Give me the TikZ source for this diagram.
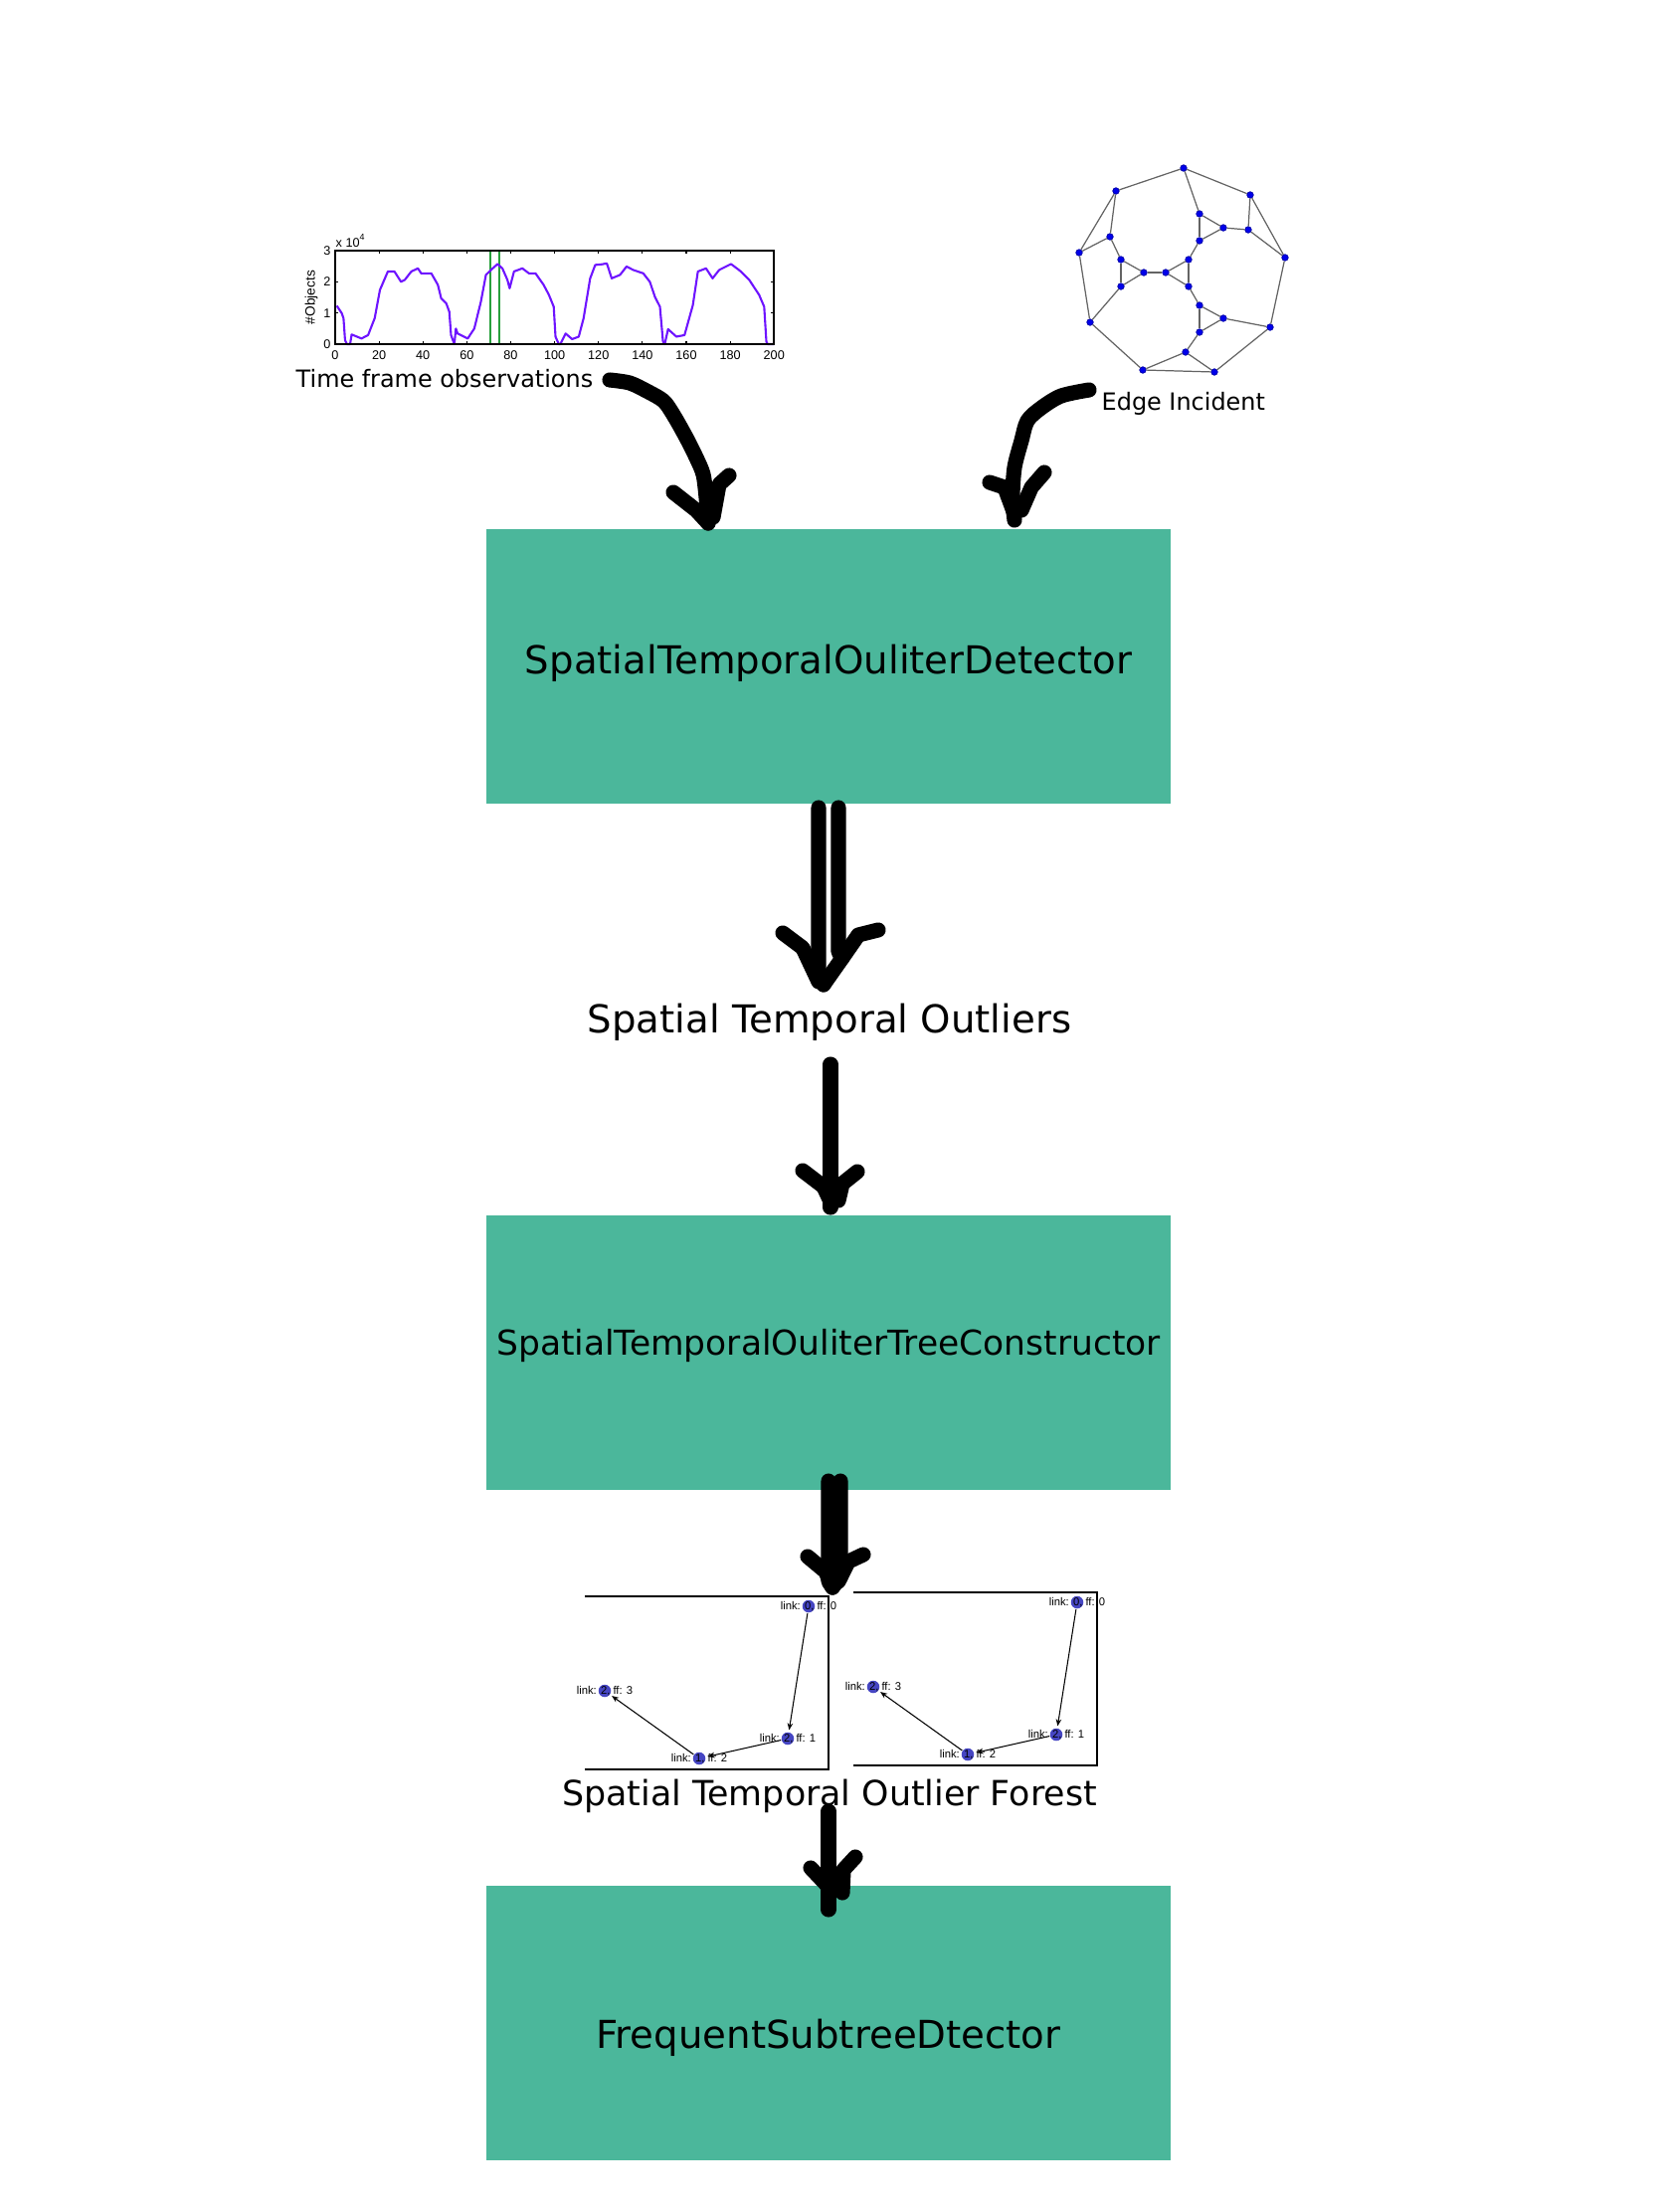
\documentclass[tikz,border=0pt]{standalone}
\usepackage{fontspec}
\setmainfont{DejaVu Sans}
\newfontfamily\axisfont{Liberation Sans}
\usepackage{tikz}
\usetikzlibrary{positioning,arrows.meta}
\definecolor{stoteal}{RGB}{75,183,155}
\definecolor{stoviolet}{RGB}{110,20,255}
\definecolor{stogreen}{RGB}{40,160,60}
\definecolor{stoblue}{RGB}{0,0,235}
\definecolor{stonode}{RGB}{70,70,195}
\definecolor{stogray}{RGB}{100,100,100}

\begin{document}
\begin{tikzpicture}[x=0.01cm,y=-0.01cm,
  stage/.style={fill=stoteal,minimum width=6.88cm,minimum height=2.76cm,inner sep=0pt,font=\fontsize{11}{13}\selectfont},
  caption/.style={inner sep=0pt,font=\fontsize{11}{13}\selectfont},
  small/.style={inner sep=0pt,font=\fontsize{6.8}{8}\selectfont},
  ink/.style={line width=4.3pt,line cap=round,line join=round},
  ticklab/.style={inner sep=0pt,font=\axisfont\fontsize{3.6}{4}\selectfont},
  gdot/.style={circle,fill=stoblue,draw=stoblue!70!black,line width=0.2pt,minimum size=0.065cm,inner sep=0pt},
  gedge/.style={stogray,line width=0.35pt},
  fdot/.style={circle,fill=stonode,minimum size=0.125cm,inner sep=0pt},
  flab/.style={inner sep=0pt,font=\axisfont\fontsize{3.2}{4}\selectfont},
  fedge/.style={line width=0.3pt,-{Stealth[length=2pt,width=1.6pt]},shorten >=0.5pt}]
\useasboundingbox (0,0) rectangle (1668,2224);

% stages
\node[stage,text height=8.4pt,text depth=4.2pt] (detector) at (833,670) {SpatialTemporalOuliterDetector};
\node[caption] (outliers) at (834,1028) {Spatial Temporal Outliers};
\node[stage,font=\fontsize{9.8}{12}\selectfont,text height=7.5pt,text depth=6.3pt] (treecon) at (833,1360) {SpatialTemporalOuliterTreeConstructor};
\node[caption,font=\fontsize{9.9}{12}\selectfont] (forestlab) at (834,1806) {Spatial Temporal Outlier Forest};
\node[stage,text height=15pt,text depth=0.4pt] (subtree) at (833,2034) {FrequentSubtreeDtector};
\node[small,anchor=west] (timelab) at (297,381) {Time frame observations};
\node[small,anchor=west] (edgelab) at (1107,406) {Edge Incident};

% time frame plot
\begin{scope}[shift={(337,346)},x=0.02205cm,y=0.3133cm]
\draw[stogreen,line width=0.5pt] (70.6,0) -- (70.6,3) (74.7,0) -- (74.7,3);
\draw[stoviolet,line width=0.6pt,line join=round] plot coordinates {(0.75,1.23) (3,0.99) (3.8,0.83) (4.5,0.13) (5.3,0) (6.8,0) (7.5,0.31) (12,0.18) (15,0.29) (18,0.83) (20.4,1.74) (24,2.33) (27,2.33) (30,2.0) (31.7,2.06) (34.7,2.33) (37.7,2.43) (39.2,2.27) (43.8,2.27) (46.8,1.9) (48.3,1.47) (50.6,1.31) (52,1.04) (52.8,0.29) (54.3,0) (55,0.5) (55.8,0.34) (60.4,0.18) (63.4,0.5) (66.4,1.36) (68.7,2.22) (71,2.38) (74,2.57) (76.2,2.43) (78.5,2.06) (79.5,1.79) (81.5,2.33) (85.3,2.43) (88.3,2.27) (91.3,2.27) (95,1.9) (97.4,1.58) (99.6,1.2) (100.4,0.24) (101.9,0) (102.6,0) (105,0.34) (108,0.16) (111,0.24) (113.2,0.83) (116.2,2.11) (118.5,2.54) (121.5,2.56) (123.8,2.59) (126,2.11) (129.8,2.22) (132.8,2.49) (135.8,2.38) (140.4,2.27) (143.4,2.0) (145.7,1.52) (148,1.2) (149.4,0.08) (150.2,0) (151.7,0.48) (155.5,0.24) (159.2,0.29) (163,1.25) (165.3,2.33) (169,2.43) (172,2.11) (175,2.38) (180.4,2.57) (184.9,2.33) (188.7,2.06) (193.2,1.58) (195.5,1.2) (196.5,0.08) (197,0) (200,0)};
\draw[line width=0.45pt] (0,0) rectangle (200,3);
\foreach \t in {0,20,...,200} {
  \draw[line width=0.3pt] (\t,0) -- (\t,0.1) (\t,3) -- (\t,2.9);
  \node[ticklab,anchor=north] (xt\t) at (\t,-0.18) {\t};
}
\foreach \v in {0,1,2,3} {
  \draw[line width=0.3pt] (0,\v) -- (1.4,\v) (200,\v) -- (198.6,\v);
  \node[ticklab,anchor=east] (yt\v) at (-1.8,\v) {\v};
}
\node[ticklab,anchor=south west] (expo) at (0,3.08) {x 10\textsuperscript{4}};
\node[ticklab,font=\axisfont\fontsize{3.9}{4}\selectfont,rotate=90] (ylab) at (-10.9,1.5) {\#Objects};
\end{scope}

% edge incident graph
\foreach \n/\x/\y in {1/1190/169, 2/1122/192, 3/1257/196, 4/1206/215, 5/1230/229, 6/1255/231,
  7/1116/238, 8/1206/242, 9/1085/254, 10/1292/259, 11/1127/261, 12/1195/261, 13/1150/274,
  14/1172/274, 15/1127/288, 16/1195/288, 17/1206/307, 18/1230/320, 19/1096/324, 20/1277/329,
  21/1206/334, 22/1192/354, 23/1149/372, 24/1221/374}
  \node[gdot] (g\n) at (\x,\y) {};
\foreach \a/\b in {1/2, 1/3, 1/4, 2/7, 2/9, 3/6, 3/10, 4/5, 4/8, 5/6, 5/8, 6/10, 7/9, 7/11,
  8/12, 9/19, 10/20, 11/13, 11/15, 12/14, 12/16, 13/14, 13/15, 14/16, 15/19, 16/17, 17/18,
  17/21, 18/20, 18/21, 19/23, 20/24, 21/22, 22/23, 22/24, 23/24}
  \draw[gedge] (g\a) -- (g\b);

% outlier forest
\foreach \k/\dx/\dy in {1/0/0, 2/270/-4} {
\begin{scope}[shift={(\dx,\dy)}]
\draw[line width=0.8pt] (588,1605) -- (833,1605) -- (833,1779) -- (588,1779);
\node[fdot] (fa\k) at (813,1615) {};
\node[fdot] (fb\k) at (792,1748) {};
\node[fdot] (fc\k) at (703,1768) {};
\node[fdot] (fd\k) at (608,1700) {};
\draw[fedge] (fa\k) -- (fb\k);
\draw[fedge] (fb\k) -- (fc\k);
\draw[fedge] (fc\k) -- (fd\k);
\node[flab] at (fa\k) {link: 0, ff: 0};
\node[flab] at (fb\k) {link: 2, ff: 1};
\node[flab] at (fc\k) {link: 1, ff: 2};
\node[flab] at (fd\k) {link: 2, ff: 3};
\end{scope}
}

% hand drawn arrows
\coordinate (a1s) at (613,382); \coordinate (a1t) at (712,526);
\coordinate (a2s) at (1095,392); \coordinate (a2t) at (1020,523);
\draw[ink] plot[smooth] coordinates {(a1s) (633,385) (650,393) (667,403) (677,417) (690,440) (700,460) (707,477) (710,500) (a1t)};
\draw[ink] (677,495) -- (700,513) -- (a1t);
\draw[ink] (733,478) -- (723,487) -- (717,520);
\draw[ink] plot[smooth] coordinates {(a2s) (1067,398) (1047,410) (1033,423) (1027,443) (1020,470) (1018,500) (a2t)};
\draw[ink] (995,485) -- (1010,490) -- (1020,517);
\draw[ink] (1050,475) -- (1037,490) -- (1027,513);

\coordinate (a3s) at (833,812); \coordinate (a3t) at (828,990);
\draw[ink] (823,812) -- (823,977) -- (a3t);
\draw[ink] (843,812) -- (843,957) -- (847,963) -- (a3t);
\draw[ink] (787,938) -- (807,953) -- (823,987);
\draw[ink] (883,935) -- (863,940) -- (847,963);

\coordinate (a4s) at (835,1070); \coordinate (a4t) at (835,1214);
\draw[ink] (a4s) -- (a4t);
\draw[ink] (807,1177) -- (828,1193) -- (835,1208);
\draw[ink] (862,1178) -- (847,1190) -- (843,1207);

\coordinate (a5t) at (837,1596);
\draw[ink] (833,1489) -- (833,1590) -- (a5t);
\draw[ink] (845,1489) -- (845,1586) -- (a5t);
\draw[ink] (812,1565) -- (830,1580) -- (a5t);
\draw[ink] (868,1563) -- (853,1570) -- (843,1590);

\coordinate (a6s) at (833,1821); \coordinate (a6t) at (833,1920);
\draw[ink] (a6s) -- (a6t);
\draw[ink] (815,1878) -- (833,1897);
\draw[ink] (860,1867) -- (848,1880) -- (847,1903);
\end{tikzpicture}
\end{document}
